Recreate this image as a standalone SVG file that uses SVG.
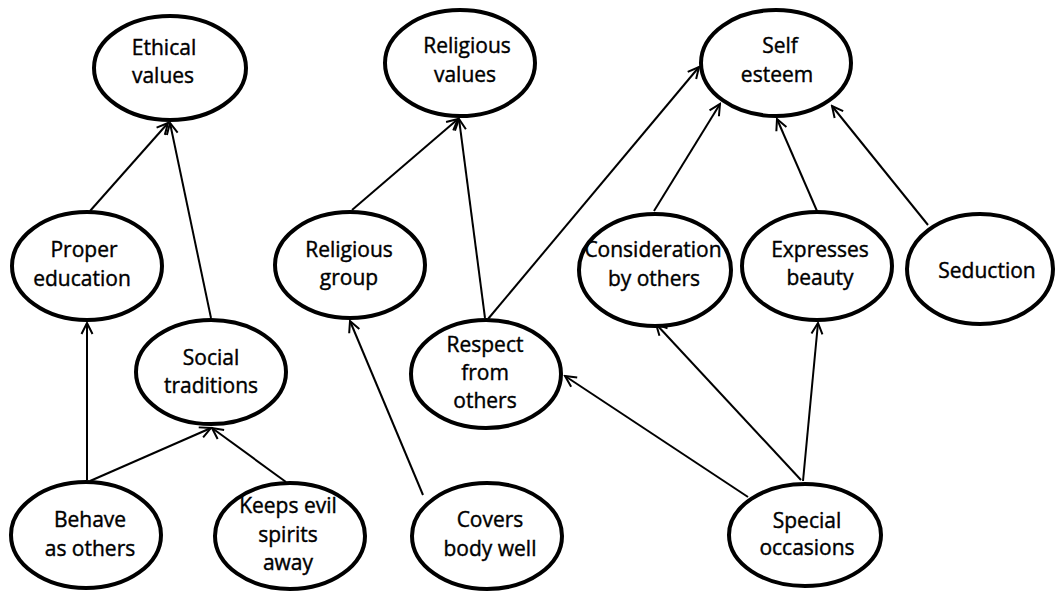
<svg xmlns="http://www.w3.org/2000/svg" width="1055" height="591" viewBox="0 0 1055 591">
<style>
.n ellipse{fill:#fff;stroke:#000;stroke-width:4}
.n text{font-family:"Open Sans","Noto Sans",sans-serif;font-size:21px;fill:#000;stroke:#000;stroke-width:0.4;text-anchor:middle}
.c line{stroke:#000;stroke-width:2;marker-end:url(#ah)}
</style>
<defs>
<marker id="ah" markerUnits="userSpaceOnUse" markerWidth="14" markerHeight="14" viewBox="-12 -7 14 14" refX="0" refY="0" orient="auto">
<path d="M-11,-5.5 L0,0 L-11,5.5" fill="none" stroke="#000" stroke-width="2"/>
</marker>
</defs>
<rect width="1055" height="591" fill="#fff"/>
<g id="connectors" class="c">
<line x1="90" y1="211" x2="168" y2="123"/>
<line x1="211" y1="318" x2="170" y2="123"/>
<line x1="87" y1="480" x2="87" y2="323"/>
<line x1="90" y1="481" x2="211" y2="428"/>
<line x1="286" y1="482" x2="212" y2="428"/>
<line x1="352" y1="210" x2="458" y2="119"/>
<line x1="423" y1="495" x2="350" y2="321"/>
<line x1="485" y1="318" x2="459" y2="119"/>
<line x1="488" y1="319" x2="699" y2="67"/>
<line x1="654" y1="211" x2="720" y2="104"/>
<line x1="817" y1="211" x2="777" y2="119"/>
<line x1="928" y1="225" x2="832" y2="106"/>
<line x1="803" y1="481" x2="818" y2="323"/>
<line x1="801" y1="480" x2="656" y2="324"/>
<line x1="748" y1="497" x2="565" y2="376"/>
</g>
<g id="ethical-values" class="n"><ellipse cx="170" cy="68" rx="76" ry="52"/><text x="164" y="55">Ethical</text><text x="163" y="83">values</text></g>
<g id="religious-values" class="n"><ellipse cx="460" cy="63" rx="75" ry="53"/><text x="467" y="53">Religious</text><text x="465" y="82">values</text></g>
<g id="self-esteem" class="n"><ellipse cx="776" cy="63" rx="75" ry="53"/><text x="780" y="53">Self</text><text x="777" y="82">esteem</text></g>
<g id="proper-education" class="n"><ellipse cx="87" cy="266" rx="75" ry="54"/><text x="84" y="257">Proper</text><text x="82" y="286">education</text></g>
<g id="religious-group" class="n"><ellipse cx="350" cy="265" rx="75" ry="53"/><text x="349" y="257">Religious</text><text x="349" y="285">group</text></g>
<g id="consideration-by-others" class="n"><ellipse cx="655" cy="270" rx="76" ry="56"/><text x="653" y="257">Consideration</text><text x="654" y="286">by others</text></g>
<g id="expresses-beauty" class="n"><ellipse cx="817" cy="266" rx="75" ry="54"/><text x="820" y="257">Expresses</text><text x="820" y="285">beauty</text></g>
<g id="seduction" class="n"><ellipse cx="980" cy="269" rx="73" ry="55"/><text x="987" y="278">Seduction</text></g>
<g id="social-traditions" class="n"><ellipse cx="211" cy="372" rx="75" ry="52"/><text x="211" y="365">Social</text><text x="211" y="393">traditions</text></g>
<g id="respect-from-others" class="n"><ellipse cx="486" cy="374" rx="75" ry="54"/><text x="485" y="352">Respect</text><text x="485" y="380">from</text><text x="485" y="408">others</text></g>
<g id="behave-as-others" class="n"><ellipse cx="86" cy="535" rx="75" ry="53"/><text x="90" y="527">Behave</text><text x="90" y="556">as others</text></g>
<g id="keeps-evil-spirits-away" class="n"><ellipse cx="290" cy="536" rx="75" ry="53"/><text x="288" y="513">Keeps evil</text><text x="288" y="542">spirits</text><text x="288" y="570">away</text></g>
<g id="covers-body-well" class="n"><ellipse cx="487" cy="536" rx="75" ry="53"/><text x="490" y="527">Covers</text><text x="490" y="556">body well</text></g>
<g id="special-occasions" class="n"><ellipse cx="805" cy="535" rx="76" ry="51"/><text x="807" y="528">Special</text><text x="807" y="555">occasions</text></g>
</svg>
